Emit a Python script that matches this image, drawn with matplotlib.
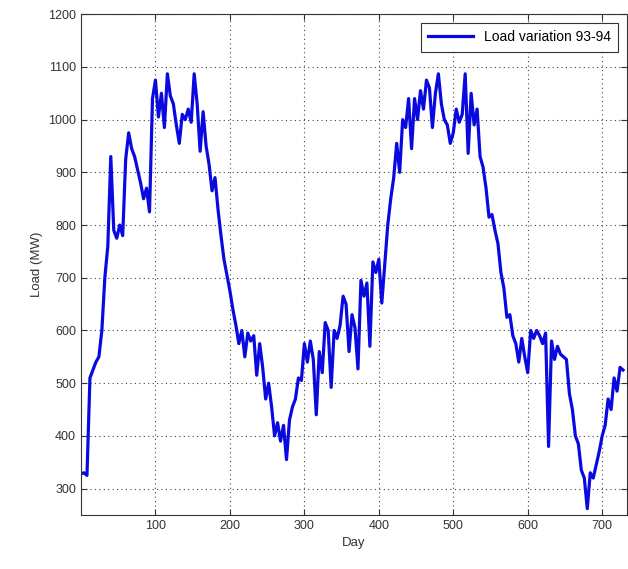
import matplotlib.pyplot as plt
import numpy as np

plt.rcParams['font.family'] = ['Liberation Sans Narrow', 'Liberation Sans', 'DejaVu Sans']

# daily load sampled every 4 days, 1993-94 (MW)
days = np.arange(0, 729, 4)
load = [
    328, 330, 325, 510, 525, 540, 550, 600, 700, 760,
    930, 790, 775, 800, 780, 925, 975, 945, 930, 905,
    880, 850, 870, 825, 1040, 1075, 1005, 1050, 985, 1087,
    1045, 1030, 990, 955, 1010, 1000, 1020, 995, 1087, 1030,
    940, 1015, 950, 915, 865, 890, 830, 780, 735, 705,
    675, 640, 610, 575, 600, 550, 595, 580, 590, 515,
    575, 530, 470, 500, 455, 400, 425, 390, 420, 355,
    430, 455, 470, 510, 505, 575, 540, 580, 545, 440,
    560, 520, 615, 600, 492, 600, 585, 610, 665, 650,
    560, 630, 605, 527, 695, 665, 690, 570, 730, 710,
    735, 652, 725, 800, 850, 890, 955, 900, 1000, 985,
    1040, 945, 1040, 1000, 1055, 1020, 1075, 1060, 985, 1050,
    1087, 1030, 1000, 990, 955, 975, 1020, 995, 1010, 1087,
    936, 1050, 990, 1020, 930, 910, 870, 815, 820, 790,
    765, 710, 680, 625, 630, 590, 575, 540, 585, 550,
    520, 600, 585, 600, 590, 575, 595, 380, 580, 545,
    570, 555, 550, 545, 480, 450, 400, 385, 335, 320,
    262, 330, 320, 345, 370, 400, 420, 470, 450, 510,
    485, 530, 525,
]

fig = plt.figure(figsize=(6.28, 5.69), dpi=100)
ax = fig.add_axes([0.129, 0.095, 0.869, 0.880])

ax.plot(days, load, color='#0a0ae0', linewidth=2.3, label='Load variation 93-94')

ax.set_xlim(0, 733)
ax.set_ylim(250, 1200)
ax.set_xticks(range(100, 701, 100))
ax.set_yticks(range(300, 1201, 100))
ax.tick_params(direction='in', top=True, right=True, labelsize=9, length=4,
               colors='#333333')
ax.grid(True, linestyle=(0, (1, 3)), color='#444444', linewidth=0.8)
for s in ax.spines.values():
    s.set_color('#333333')
    s.set_linewidth(0.8)

ax.set_xlabel('Day', fontsize=9.5, color='#333333')
ax.set_ylabel('Load (MW)', fontsize=9.5, color='#333333')

leg = ax.legend(loc='upper right', fontsize=10, frameon=True, fancybox=False,
                handlelength=3.2, borderpad=0.55, borderaxespad=0.6)
leg.get_frame().set_edgecolor('#333333')
leg.get_frame().set_linewidth(0.8)
leg.get_frame().set_alpha(1)

fig.savefig('out.png', dpi=100)
